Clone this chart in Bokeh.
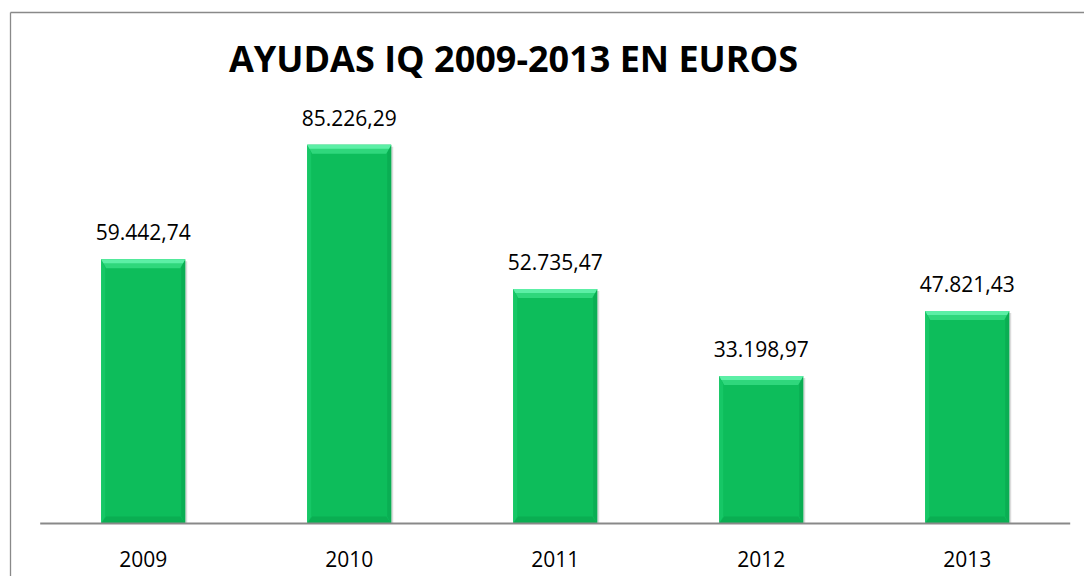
from bokeh.plotting import figure
from bokeh.models import ColumnDataSource, LabelSet, Label, FixedTicker, Range1d, LinearAxis
from bokeh.core.properties import value
from bokeh.embed import file_html
from bokeh.resources import INLINE

# ---- data ----
years = ["2009", "2010", "2011", "2012", "2013"]
values = [59442.74, 85226.29, 52735.47, 33198.97, 47821.43]
title_text = "AYUDAS IQ 2009-2013 EN EUROS"
y_max = 90000

# ---- layout constants (page pixels) ----
W, H = 1084, 576
ML, MT = 10, 12                 # chart border (left / top) sits at the frame edges
PX_X = 206.0                    # px per category
X0 = 142.7                      # page x of first category centre
BASE_Y = 523.0                  # page y of the value axis zero
PX_Y = 400.0 / y_max            # px per value unit
BAR_W = 84 / PX_X
TITLE_X, TITLE_Y = 513.0, 58.0
GRAY = "#898989"
FONT = "Open Sans"

def px2x(px):
    return (px - X0) / PX_X

def py2y(py):
    return (BASE_Y - py) / PX_Y

def fmt(v):
    s = f"{v:,.2f}"
    return s.replace(",", "#").replace(".", ",").replace("#", ".")

xs = list(range(len(years)))
src = ColumnDataSource(dict(x=xs, top=values, zero=[0] * len(xs),
                            label=[fmt(v) for v in values], year=years))

p = figure(width=W, height=H, output_backend="svg", toolbar_location=None,
           x_range=Range1d(px2x(ML), px2x(W)), y_range=Range1d(py2y(H), py2y(MT)),
           x_axis_location=None, y_axis_location=None,
           min_border_left=ML, min_border_right=0, min_border_top=MT, min_border_bottom=0,
           background_fill_color="white", border_fill_color="white")
p.outline_line_color = None
p.xgrid.visible = False
p.ygrid.visible = False

# chart border: left and top edges as bare axis lines
for side in ("left", "above"):
    ax = LinearAxis(ticker=FixedTicker(ticks=[]), axis_line_color=GRAY, axis_line_width=1.3,
                    major_tick_line_color=None, minor_tick_line_color=None,
                    major_label_text_font_size="0px")
    p.add_layout(ax, side)

# title
p.add_layout(Label(x=px2x(TITLE_X), y=py2y(TITLE_Y), text=title_text,
                   text_align="center", text_baseline="alphabetic",
                   text_font=FONT, text_font_size="36px", text_font_style="bold",
                   text_color="#000000"))

# shadow
dx = 2 / PX_X
dy = 2 / PX_Y
p.vbar(x=[x + dx for x in xs], top=[v - dy for v in values], bottom=0, width=BAR_W,
       fill_color="#b8b8b8", fill_alpha=0.5, line_color=None)

# base bars
p.vbar(x="x", top="top", bottom=0, width=BAR_W, source=src,
       fill_color="#0DBD5B", line_color=None)

hw = BAR_W / 2
inset = 5 / PX_X
side_w = 4 / PX_X

# side strips
p.patches(xs=[[x - hw, x - hw + side_w, x - hw + side_w, x - hw] for x in xs],
          ys=[[v, v - 8 / PX_Y, 7 / PX_Y, 0] for v in values],
          fill_color="#16C766", line_color=None)
p.patches(xs=[[x + hw, x + hw - side_w, x + hw - side_w, x + hw] for x in xs],
          ys=[[v, v - 8 / PX_Y, 7 / PX_Y, 0] for v in values],
          fill_color="#0AAE53", line_color=None)

# top bevel
tb = 9 / PX_Y
p.patches(xs=[[x - hw, x + hw, x + hw - inset, x - hw + inset] for x in xs],
          ys=[[v, v, v - tb, v - tb] for v in values],
          fill_color="#2FD77C", line_color=None)
tb2 = 4 / PX_Y
inset2 = 2.2 / PX_X
p.patches(xs=[[x - hw, x + hw, x + hw - inset2, x - hw + inset2] for x in xs],
          ys=[[v, v, v - tb2, v - tb2] for v in values],
          fill_color="#5CEFA6", line_color=None)

# bottom bevel
bb = 7 / PX_Y
p.patches(xs=[[x - hw, x + hw, x + hw - inset, x - hw + inset] for x in xs],
          ys=[[0, 0, bb, bb] for _ in values],
          fill_color="#0AAE52", line_color=None)

# category baseline
p.segment(x0=[-0.5], y0=[0], x1=[len(years) - 0.5], y1=[0], line_color=GRAY, line_width=2)

# category labels
p.add_layout(LabelSet(x="x", y="zero", text="year", source=src, text_align="center",
                      text_baseline="alphabetic", y_offset=-43,
                      text_font=value(FONT), text_font_size=value("21px"),
                      text_color="#000000"))

# value labels
p.add_layout(LabelSet(x="x", y="top", text="label", source=src, text_align="center",
                      text_baseline="alphabetic", y_offset=19,
                      text_font=value(FONT), text_font_size=value("21px"),
                      text_color="#000000"))

open("out.html", "w").write(file_html(p, INLINE))
